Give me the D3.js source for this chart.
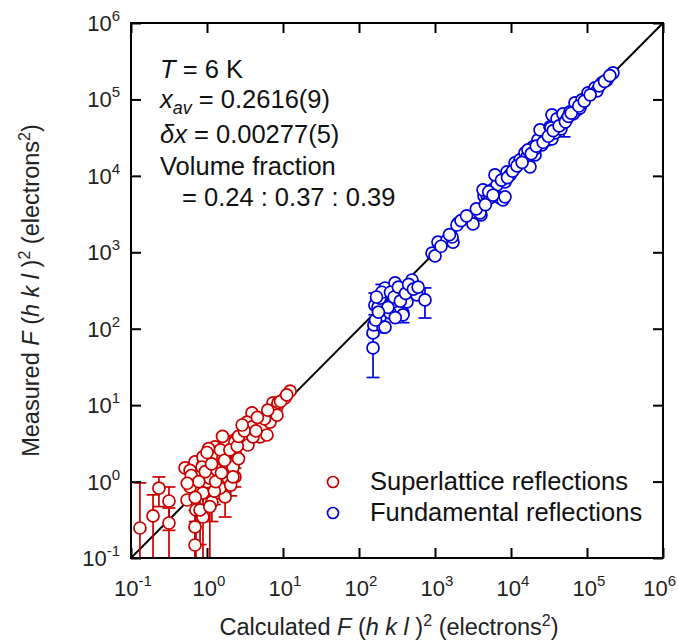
<!DOCTYPE html>
<html><head><meta charset="utf-8">
<script src="https://cdn.jsdelivr.net/npm/d3@7"></script>
<style>body{margin:0;background:#fff;} svg{display:block;font-family:"Liberation Sans",Arial,sans-serif;}</style>
</head><body>
<svg id="c" width="678" height="641"></svg>
<script>
// ---- data ----
const tickExps = [-1, 0, 1, 2, 3, 4, 5, 6];
const superCalc = [0.131,0.195,0.233,0.316,0.316,0.546,0.695,0.695,0.716,0.885,0.514,0.695,0.885,1.0,1.27,1.73,2.33,2.33,2.2,1.89,1.4,1.09,0.885,1.16,1.73,1.48,0.74,0.60,0.81,1.09,1.35,1.09,1.83,2.33,1.25,2.05,0.7,
  3.91,3.36,3.91,5.3,6.75,3.68,4.98,6.15,7.38,8.34,3.36,2.89,12.4,10.6,8.6,7.16,8.34,3.46,1.73,0.885,1.2,1.62,0.86,1.35,2.2,2.2,4.03,2.33,0.6,1.05,2.6,1.5,
  0.62,0.78,0.95,1.15,1.3,1.55,1.7,2.0,2.5,1.0,2.6,3.1,4.4,5.7,4.6,6.3,9.3,11.2,0.55,1.6,2.9];
const superMeas = [0.247,0.355,0.82,0.557,0.287,0.574,0.255,0.148,0.425,0.344,1.51,1.81,1.65,0.99,2.84,3.51,3.51,2.44,1.65,1.11,1.22,1.11,0.71,0.54,0.63,0.82,1.30,0.85,0.425,0.47,1.92,2.37,2.44,1.15,0.75,0.9,0.62,
  7.9,6.0,5.2,5.2,6.0,4.07,3.84,4.07,10.7,9.5,3.2,3.51,15.3,12.4,10.7,8.1,7.4,3.01,3.3,2.1,2.04,2.04,1.55,1.42,1.55,1.15,3.84,3.3,1.4,2.7,2.0,2.6,
  1.2,1.0,1.35,1.7,1.0,1.3,1.9,2.6,2.9,2.4,3.9,4.6,4.6,6.6,6.9,8.6,11.2,13.6,0.95,3.9,5.5];
const superErrHi = [0.96,0.67,1.15,0.85,0.45,null,0.42,0.25,0.7,0.6,null,null,null,null,null,null,null,null,null,1.5,null,null,1.0,0.8,0.95,1.1,null,null,0.7,0.7,null,null,null,1.5,1.05,1.2,0.9];
const superErrLo = [0.01,0.01,0.47,0.23,0.01,null,0.01,0.01,0.01,0.01,null,null,null,null,null,null,null,null,null,0.8,null,null,0.4,0.3,0.344,0.6,null,null,0.15,0.01,null,null,null,0.85,0.5,0.65,0.3];

const fundCalc = [153,153,157,189,162,207,178,189,220,298,346,379,316,428,498,580,738,220,256,280,368,469,379,200,
  165,170,240,260,290,330,350,410,450,520,600,180,300,
  914,1094,1439,1725,1675,2009,1000,1945,2890,3162,4027,3908,4416,4830,5292,4285,5623,6546,7161,7852,8337,6155,8855,9700,8337,11290,11290,13130,15280,16240,17780,19450,20700,20700,16740,22650,25590,28000,24100,30690,32580,34600,37930,34600,40270,45500,48310,54580,59700,69500,73800,65500,85900,103000,127400,157400,183300,219800,135500,80900,33600,49800,
  1200,1550,2200,2600,3500,4600,5100,5800,7500,9000,10500,12000,14000,18500,21500,26500,31000,36000,43000,52000,57000,62000,78000,92000,110000,145000,170000,200000];
const fundMeas = [56,88,112,142,204,105,192,252,341,397,303,161,192,224,434,277,238,105,161,224,277,341,152,300,
  130,260,190,300,260,350,230,290,380,330,350,165,140,
  977,1361,1446,1361,1585,2415,897,2275,2812,2350,3083,3273,5466,5636,5150,6561,6561,7624,5150,4853,5309,10300,11250,10300,8337,12700,14790,16180,20000,17740,13130,23930,18790,22540,21880,29580,25460,36560,40000,29580,43750,30480,36560,62800,55720,41210,64710,55720,68870,90150,73100,64710,98600,121900,141900,164900,180600,222700,129400,77600,42500,49300,
  1200,1700,2600,3000,3700,4200,6200,5600,8800,9500,11500,13500,15000,19500,24500,27500,33000,39000,45000,51000,60000,66000,82000,95000,115000,150000,172000,205000];
const fundErrHi = [83,null,null,null,293,null,null,null,null,null,null,230,null,null,null,null,342,null,null,null,null,null,null,380];
const fundErrLo = [23,null,null,null,152,null,null,null,null,null,null,120,null,null,null,null,138,null,null,null,null,null,null,235];
// extra error bar on the 10^4–10^5 part (index in fund arrays)
const fundExtraErrIdx = [98];
const fundExtraErrHi = [46500];
const fundExtraErrLo = [32400];

const legendLabels = ["Superlattice reflections", "Fundamental reflections"];
const colors = ["#c80000", "#0000dc"];

// ---- chart ----
const svg = d3.select("#c");
const L = 131, R = 663, T = 23, B = 558;
const x = d3.scaleLog().domain([0.1, 1e6]).range([L, R]);
const y = d3.scaleLog().domain([0.1, 1e6]).range([B, T]);
const tickVals = tickExps.map(e => Math.pow(10, e));

svg.append("defs").append("clipPath").attr("id", "clip")
  .append("rect").attr("x", L).attr("y", T).attr("width", R - L).attr("height", B - T);

// diagonal
svg.append("line").attr("x1", x(0.1)).attr("y1", y(0.1)).attr("x2", x(1e6)).attr("y2", y(1e6))
  .attr("stroke", "#000").attr("stroke-width", 2);

function series(calc, meas, hi, lo, color) {
  const data = calc.map((c, i) => ({c, m: meas[i], hi: hi[i], lo: lo[i]}));
  const g = svg.append("g").attr("clip-path", "url(#clip)");
  data.filter(d => d.hi != null).forEach(d => {
    const cx = x(d.c);
    g.append("line").attr("x1", cx).attr("x2", cx).attr("y1", y(d.hi)).attr("y2", y(d.lo))
      .attr("stroke", color).attr("stroke-width", 1.7);
    [d.hi, d.lo].forEach(v => g.append("line").attr("x1", cx - 6.5).attr("x2", cx + 6.5)
      .attr("y1", y(v)).attr("y2", y(v)).attr("stroke", color).attr("stroke-width", 1.7));
  });
  g.selectAll(null).data(data).enter().append("circle")
    .attr("cx", d => x(d.c)).attr("cy", d => y(d.m)).attr("r", 6)
    .attr("fill", "#fffdf8").attr("stroke", color).attr("stroke-width", 1.7);
}
const fHi = fundCalc.map((_, i) => fundErrHi[i] != null ? fundErrHi[i] : null);
const fLo = fundCalc.map((_, i) => fundErrLo[i] != null ? fundErrLo[i] : null);
fundExtraErrIdx.forEach((k, j) => { fHi[k] = fundExtraErrHi[j]; fLo[k] = fundExtraErrLo[j]; });
series(superCalc, superMeas, superErrHi, superErrLo, colors[0]);
series(fundCalc, fundMeas, fHi, fLo, colors[1]);

// frame
svg.append("rect").attr("x", L).attr("y", T).attr("width", R - L).attr("height", B - T)
  .attr("fill", "none").attr("stroke", "#000").attr("stroke-width", 2);

// ticks (inward, all four sides)
const tl = 10;
[[d3.axisBottom(x), `translate(0,${B})`], [d3.axisTop(x), `translate(0,${T})`],
 [d3.axisLeft(y), `translate(${L},0)`], [d3.axisRight(y), `translate(${R},0)`]]
  .forEach(([a, t]) => {
    const g = svg.append("g").attr("transform", t).call(a.tickValues(tickVals).tickSize(-tl).tickFormat(""));
    g.select(".domain").remove();
    g.selectAll("line").attr("stroke", "#000").attr("stroke-width", 2);
  });

// tick labels
const fs = 22, sfs = 15;
tickExps.forEach((e, i) => {
  const last = i === tickExps.length - 1;
  const t = svg.append("text").attr("x", last ? 676 : x(tickVals[i]) + 2).attr("y", B + 38)
    .attr("text-anchor", last ? "end" : "middle").attr("font-size", fs).attr("fill", "#222");
  t.append("tspan").text("10");
  t.append("tspan").attr("dy", -10).attr("font-size", sfs).text(String(e));
});
tickExps.forEach((e, i) => {
  const t = svg.append("text").attr("x", L - 11).attr("y", y(tickVals[i]) + 8)
    .attr("text-anchor", "end").attr("font-size", fs).attr("fill", "#222");
  t.append("tspan").text("10");
  t.append("tspan").attr("dy", -10).attr("font-size", sfs).text(String(e));
});

// axis titles
function title(sel, prefix) {
  sel.append("tspan").text(prefix + " ");
  sel.append("tspan").attr("font-style", "italic").text("F");
  sel.append("tspan").text(" (");
  sel.append("tspan").attr("font-style", "italic").text("h k l");
  sel.append("tspan").text(" )");
  sel.append("tspan").attr("dy", -9).attr("font-size", 16).text("2");
  sel.append("tspan").attr("dy", 9).text(" (electrons");
  sel.append("tspan").attr("dy", -9).attr("font-size", 16).text("2");
  sel.append("tspan").attr("dy", 9).text(")");
}
const xt = svg.append("text").attr("x", 389).attr("y", 635).attr("text-anchor", "middle")
  .attr("font-size", 23.5).attr("fill", "#222");
title(xt, "Calculated");
const yt = svg.append("text").attr("transform", `translate(39,${(T + B) / 2}) rotate(-90)`)
  .attr("text-anchor", "middle").attr("font-size", 23.5).attr("fill", "#222");
title(yt, "Measured");

// annotation
const af = 25.5, ax0 = 160;
const a1 = svg.append("text").attr("x", ax0).attr("y", 78).attr("font-size", af).attr("fill", "#111");
a1.append("tspan").attr("font-style", "italic").text("T");
a1.append("tspan").text(" = 6 K");
const a2 = svg.append("text").attr("x", ax0).attr("y", 108).attr("font-size", af).attr("fill", "#111");
a2.append("tspan").attr("font-style", "italic").text("x");
a2.append("tspan").attr("font-style", "italic").attr("font-size", 18).attr("dy", 6).text("av");
a2.append("tspan").attr("dy", -6).text(" = 0.2616(9)");
const a3 = svg.append("text").attr("x", ax0).attr("y", 143).attr("font-size", af).attr("fill", "#111");
a3.append("tspan").attr("font-style", "italic").text("δx");
a3.append("tspan").text(" = 0.00277(5)");
svg.append("text").attr("x", ax0).attr("y", 175).attr("font-size", af).attr("fill", "#111").text("Volume fraction");
svg.append("text").attr("x", ax0 + 22).attr("y", 206).attr("font-size", af).attr("fill", "#111").text("= 0.24 : 0.37 : 0.39");

// legend
legendLabels.forEach((lab, i) => {
  const cy = 482 + i * 31;
  svg.append("circle").attr("cx", 333).attr("cy", cy).attr("r", 5.5)
    .attr("fill", "#fff").attr("stroke", colors[i]).attr("stroke-width", 1.7);
  svg.append("text").attr("x", 370).attr("y", cy + 8).attr("font-size", 25.5).attr("fill", "#111").text(lab);
});
</script>
</body></html>
